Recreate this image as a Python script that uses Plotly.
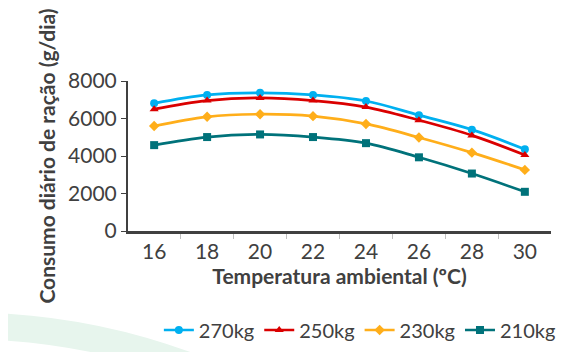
#!/usr/bin/env python3
# Consumo diario de racao vs temperatura ambiental, by body weight
import plotly.graph_objects as go

# Data
temperatura = ['16', '18', '20', '22', '24', '26', '28', '30']
peso_270 = [6810, 7260, 7370, 7260, 6935, 6180, 5405, 4360]
peso_250 = [6500, 6955, 7100, 6955, 6610, 5910, 5100, 4055]
peso_230 = [5600, 6090, 6230, 6125, 5710, 4990, 4180, 3260]
peso_210 = [4580, 5010, 5150, 5010, 4685, 3930, 3065, 2090]
y_ticks = [0, 2000, 4000, 6000, 8000]

series = [
    ('270kg', peso_270, '#00B0F0', 'circle'),
    ('250kg', peso_250, '#DA0000', 'triangle-up'),
    ('230kg', peso_230, '#FFAE1A', 'diamond'),
    ('210kg', peso_210, '#00727A', 'square'),
]

TXT = '#404040'

fig = go.Figure()
for name, vals, color, symbol in series:
    fig.add_trace(go.Scatter(
        x=temperatura,
        y=vals,
        mode='lines+markers',
        name=name,
        line=dict(color=color, width=2.7, shape='spline'),
        marker=dict(color=color, symbol=symbol, size=8),
    ))

# faint green swoosh in the bottom-left corner
fig.add_shape(
    type='path', xref='paper', yref='paper', layer='below',
    path='M -0.31,-0.5467 Q -0.0662,-0.58 0.16,-0.82 '
         'L -0.0662,-0.82 Q -0.1844,-0.7467 -0.31,-0.7267 Z',
    fillcolor='#E7F5ED', line=dict(width=0),
)

# page body has an 8px margin, so the figure is a bit smaller than the window
fig.update_layout(
    width=563, height=344,
    margin=dict(l=120, r=20, t=73, b=121, autoexpand=False),
    paper_bgcolor='white', plot_bgcolor='white',
    font=dict(family='Lato', color=TXT, size=21),
    showlegend=True,
    legend=dict(
        orientation='h', xref='container', x=0.982, xanchor='right',
        yref='container', y=0.064, yanchor='middle',
        font=dict(size=20, color=TXT), itemwidth=30, traceorder='normal',
        bgcolor='rgba(0,0,0,0)',
    ),
    xaxis=dict(
        type='category', automargin=False,
        title=dict(text='<b>Temperatura ambiental (ºC)</b>', font=dict(size=21, color=TXT), standoff=4),
        showline=True, linecolor='#404040', linewidth=2.5,
        ticks='outside', tickson='boundaries', ticklen=5, tickcolor='#BFBFBF', tickwidth=1,
        showgrid=False, zeroline=False,
        tickfont=dict(size=21, color=TXT),
    ),
    yaxis=dict(
        range=[0, 8000], automargin=False,
        tickvals=y_ticks,
        title=dict(text='<b>Consumo diário de ração (g/dia)</b>', font=dict(size=21, color=TXT), standoff=7),
        showline=True, linecolor='#404040', linewidth=2,
        ticks='outside', ticklen=5, tickcolor='#404040', tickwidth=1,
        showgrid=False, zeroline=False,
        tickfont=dict(size=21, color=TXT),
    ),
)

fig.write_html('out.html')
